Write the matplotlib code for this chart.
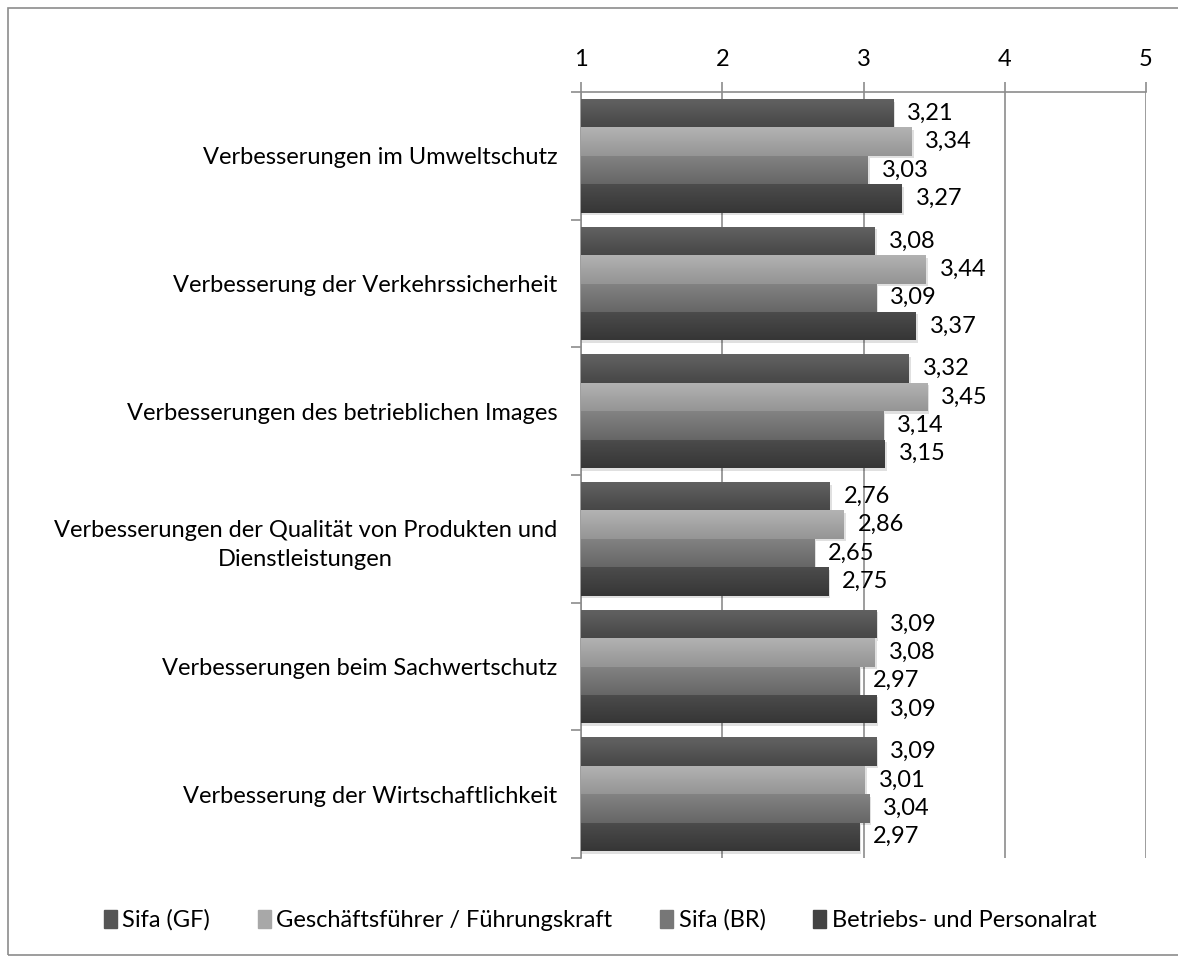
import matplotlib.pyplot as plt
import matplotlib.patches as mpatches
import numpy as np

plt.rcParams['font.family'] = ['Lato', 'DejaVu Sans']

# Daten
kategorien = ['Verbesserungen im Umweltschutz',
              'Verbesserung der Verkehrssicherheit',
              'Verbesserungen des betrieblichen Images',
              'Verbesserungen der Qualität von Produkten und\nDienstleistungen',
              'Verbesserungen beim Sachwertschutz',
              'Verbesserung der Wirtschaftlichkeit']
serien = ['Sifa (GF)', 'Geschäftsführer / Führungskraft', 'Sifa (BR)',
          'Betriebs- und Personalrat']
sifa_gf = [3.21, 3.08, 3.32, 2.76, 3.09, 3.09]
geschaeftsfuehrer = [3.34, 3.44, 3.45, 2.86, 3.08, 3.01]
sifa_br = [3.03, 3.09, 3.14, 2.65, 2.97, 3.04]
betriebsrat = [3.27, 3.37, 3.15, 2.75, 3.09, 2.97]
x_ticks = [1, 2, 3, 4, 5]

werte = [sifa_gf, geschaeftsfuehrer, sifa_br, betriebsrat]
# Farbverlauf (oben, unten) je Serie
farben = [('#626262', '#474747'), ('#b3b3b3', '#959595'),
          ('#838383', '#666666'), ('#4c4c4c', '#363636')]
legend_farben = ['#555555', '#a8a8a8', '#777777', '#434343']

fs = 17

fig = plt.figure(figsize=(11.78, 9.67), dpi=100)
ax = fig.add_axes([581 / 1178, 1 - 858 / 967, (1146 - 581) / 1178, (858 - 92) / 967])

# Rahmen um die Grafik
rahmen = mpatches.Rectangle((8 / 1178, 12 / 967), 1.0, 1 - 20 / 967,
                            transform=fig.transFigure, fill=False,
                            edgecolor='#8c8c8c', linewidth=1.2)
fig.patches.append(rahmen)

hoehe = 0.2225
y = np.arange(len(kategorien))
offsets = [-1.5 * hoehe, -0.5 * hoehe, 0.5 * hoehe, 1.5 * hoehe]

ax.set_xlim(1, 5)
ax.set_ylim(len(kategorien) - 0.5, -0.5)

for s, reihe in enumerate(werte):
    oben, unten = farben[s]
    cmap = plt.matplotlib.colors.LinearSegmentedColormap.from_list('g', [oben, unten])
    for i, v in enumerate(reihe):
        y0 = y[i] + offsets[s] - hoehe / 2
        y1 = y0 + hoehe
        schatten = mpatches.Rectangle((1, y0 + 0.02), v - 1 + 0.015, hoehe,
                                      facecolor='#000000', alpha=0.12,
                                      edgecolor='none', zorder=2)
        ax.add_patch(schatten)
        bar = ax.barh(y[i] + offsets[s], v - 1, left=1, height=hoehe,
                      color=unten, edgecolor='none', zorder=3)[0]
        grad = np.linspace(0, 1, 50).reshape(-1, 1)
        im = ax.imshow(grad, extent=[1, v, y1, y0], cmap=cmap, aspect='auto',
                       zorder=4, origin='upper')
        im.set_clip_path(bar)
        ax.annotate(f'{v:.2f}'.replace('.', ','), xy=(v, y[i] + offsets[s]),
                    xytext=(10, 0), textcoords='offset points',
                    ha='left', va='center', fontsize=fs, zorder=5)

ax.set_xlim(1, 5)
ax.set_ylim(len(kategorien) - 0.5, -0.5)

# Achsen
ax.xaxis.tick_top()
ax.set_xticks(x_ticks)
ax.set_xticklabels([str(t) for t in x_ticks], fontsize=fs)
ax.tick_params(axis='x', length=7, color='#8c8c8c', width=1.2, pad=9)
ax.grid(axis='x', color='#8c8c8c', linewidth=1.2, zorder=1)

ax.set_yticks(y)
ax.set_yticklabels(kategorien, fontsize=fs, multialignment='center',
                   linespacing=1.5)
ax.set_yticks(np.arange(-0.5, len(kategorien)), minor=True)
ax.tick_params(axis='y', which='major', length=0, pad=17)
ax.tick_params(axis='y', which='minor', length=7, color='#8c8c8c', width=1.2)

for seite in ['bottom', 'right']:
    ax.spines[seite].set_visible(False)
for seite in ['top', 'left']:
    ax.spines[seite].set_color('#8c8c8c')
    ax.spines[seite].set_linewidth(1.2)
ax.set_axisbelow(True)

# Legende
handles = [mpatches.Patch(color=c, label=l) for c, l in zip(legend_farben, serien)]
fig.legend(handles=handles, loc='center',
           bbox_to_anchor=(0.5 + 11 / 1178, 1 - 920 / 967),
           ncol=4, frameon=False, fontsize=fs, handlelength=0.55,
           handleheight=0.8, handletextpad=0.25, columnspacing=2.0)

fig.savefig('out.png', dpi=100)
